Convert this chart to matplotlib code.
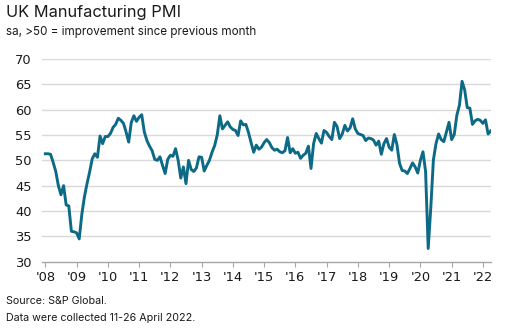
import numpy as np
import matplotlib
matplotlib.use("Agg")
import matplotlib.pyplot as plt

# UK Manufacturing PMI, monthly, seasonally adjusted
pmi_2008 = [51.3, 51.3, 51.2, 49.6, 47.8, 45.0, 43.2, 45.0, 41.2, 41.0, 36.0, 35.9]
pmi_2009 = [35.7, 34.5, 39.3, 42.8, 45.4, 47.7, 50.3, 51.3, 50.6, 54.8, 53.3, 54.7]
pmi_2010 = [54.7, 55.3, 56.5, 57.1, 58.3, 57.9, 57.3, 55.6, 53.6, 57.5, 58.8, 57.7]
pmi_2011 = [58.5, 59.0, 55.6, 53.9, 52.8, 51.9, 50.2, 50.0, 50.7, 49.0, 47.4, 50.2]
pmi_2012 = [51.0, 50.8, 52.3, 50.0, 46.5, 48.7, 45.4, 50.0, 48.2, 47.8, 48.5, 50.7]
pmi_2013 = [50.6, 47.9, 49.0, 50.0, 51.6, 52.9, 55.0, 58.8, 56.2, 56.9, 57.6, 56.6]
pmi_2014 = [56.1, 55.9, 54.9, 57.8, 57.0, 57.1, 55.5, 53.5, 51.6, 53.0, 52.2, 52.6]
pmi_2015 = [53.5, 54.1, 53.5, 52.5, 52.0, 52.2, 51.7, 51.5, 51.9, 54.5, 51.5, 52.3]
pmi_2016 = [51.4, 51.6, 50.4, 51.0, 51.4, 52.8, 48.4, 53.3, 55.3, 54.3, 53.4, 55.9]
pmi_2017 = [55.5, 54.7, 54.1, 57.5, 56.7, 54.3, 55.2, 56.9, 55.8, 56.4, 58.2, 56.2]
pmi_2018 = [55.3, 55.1, 54.9, 53.9, 54.4, 54.3, 54.0, 53.0, 53.8, 51.2, 53.3, 54.3]
pmi_2019 = [52.6, 52.0, 55.1, 53.1, 49.4, 48.0, 47.9, 47.4, 48.4, 49.5, 48.7, 47.5]
pmi_2020 = [50.0, 51.7, 47.8, 32.6, 40.7, 50.1, 53.3, 55.2, 54.1, 53.7, 55.6, 57.5]
pmi_2021 = [54.1, 55.1, 58.9, 60.9, 65.6, 63.9, 60.4, 60.3, 57.1, 57.8, 58.1, 57.9]
pmi_2022 = [57.3, 58.0, 55.2, 55.8]

years = list(range(2008, 2023))
year_labels = ["'08", "'09", "'10", "'11", "'12", "'13", "'14", "'15",
               "'16", "'17", "'18", "'19", "'20", "'21", "'22"]
y_ticks = [30, 35, 40, 45, 50, 55, 60, 65, 70]

pmi = np.array(pmi_2008 + pmi_2009 + pmi_2010 + pmi_2011 + pmi_2012 +
               pmi_2013 + pmi_2014 + pmi_2015 + pmi_2016 + pmi_2017 +
               pmi_2018 + pmi_2019 + pmi_2020 + pmi_2021 + pmi_2022)
dates = 2008 + np.arange(len(pmi)) / 12.0

LINE = "#0d6a86"
GRID = "#d9d9d9"
AXIS = "#a6a6a6"
TEXT = "#1a1a1a"
FONT = ["DejaVu Sans"]
HEAD = ["Inter", "DejaVu Sans"]

fig = plt.figure(figsize=(5.06, 3.34), dpi=100)
ax = fig.add_axes([41.7 / 506, 1 - 261.7 / 334, (490.7 - 41.7) / 506, (261.7 - 59) / 334])

for v in y_ticks[1:]:
    ax.axhline(v, color=GRID, lw=1.0, zorder=1)

ax.plot(dates, pmi, color=LINE, lw=2.1, solid_joinstyle="round", zorder=3)

ax.set_xlim(2008 - 1.4 / 12, dates[-1])
ax.set_ylim(30, 70)

for s in ["top", "right", "left"]:
    ax.spines[s].set_visible(False)
ax.spines["bottom"].set_color(AXIS)
ax.spines["bottom"].set_linewidth(1.0)

ax.set_xticks(years)
ax.set_xticklabels(year_labels, fontfamily=FONT, fontsize=9.4, color=TEXT)
ax.set_yticks(y_ticks)
ax.set_yticklabels([str(v) for v in y_ticks], fontfamily=FONT, fontsize=9.4, color=TEXT)
ax.tick_params(axis="x", length=3.5, width=0.8, color=AXIS, pad=3.5)
ax.tick_params(axis="y", length=0, pad=7)

fig.text(6 / 506, 1 - 17.5 / 334, "UK Manufacturing PMI", fontfamily=HEAD,
         fontsize=11.8, color=TEXT, ha="left", va="baseline")
fig.text(6 / 506, 1 - 34.5 / 334, "sa, >50 = improvement since previous month",
         fontfamily=HEAD, fontsize=8.4, color=TEXT, ha="left", va="baseline")
fig.text(6 / 506, 1 - 304 / 334, "Source: S&P Global.", fontfamily=HEAD,
         fontsize=7.7, color=TEXT, ha="left", va="baseline")
fig.text(6 / 506, 1 - 321 / 334, "Data were collected 11-26 April 2022.",
         fontfamily=HEAD, fontsize=7.7, color=TEXT, ha="left", va="baseline")

fig.savefig("out.png", dpi=100)
